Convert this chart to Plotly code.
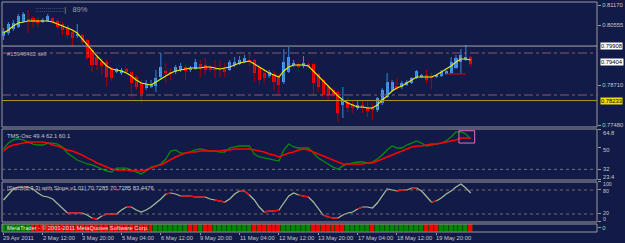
import plotly.graph_objects as go

# ---------------- data ----------------
bars = list(range(96))

open_ = [0.80217,0.80309,0.80432,0.80494,0.80678,0.80740,0.80770,0.80709,0.80648,0.80678,
         0.80770,0.80678,0.80586,0.80494,0.80340,0.80217,0.80248,0.80094,0.79787,0.79571,
         0.79418,0.79418,0.79233,0.79110,0.79079,0.79202,0.79110,0.78956,0.78772,0.78618,
         0.78649,0.78679,0.78956,0.79141,0.79110,0.79110,0.79172,0.79264,0.79172,0.79202,
         0.79356,0.79325,0.79264,0.79202,0.79202,0.79202,0.79172,0.79325,0.79356,0.79418,
         0.79479,0.79479,0.79264,0.79079,0.78987,0.79049,0.78987,0.78803,0.79110,0.79325,
         0.79356,0.79295,0.79356,0.79356,0.79049,0.78864,0.78649,0.78557,0.78495,0.78095,
         0.78189,0.78126,0.78034,0.78095,0.78034,0.78034,0.77942,0.78157,0.78341,0.78557,
         0.78679,0.78649,0.78710,0.78772,0.78926,0.78956,0.79018,0.78987,0.78956,0.78987,
         0.79049,0.79079,0.79233,0.79418,0.79479,0.79571]
high = [0.80463,0.80648,0.80709,0.80894,0.80955,0.81017,0.80832,0.80801,0.80770,0.80894,
        0.80801,0.80740,0.80648,0.80555,0.80402,0.80586,0.80309,0.80125,0.79848,0.79633,
        0.79541,0.79479,0.79264,0.79233,0.79233,0.79233,0.79141,0.79018,0.78864,0.78864,
        0.78864,0.79172,0.79694,0.79387,0.79233,0.79325,0.79387,0.79325,0.79295,0.79510,
        0.79479,0.79541,0.79325,0.79479,0.79479,0.79387,0.79479,0.79571,0.79602,0.79633,
        0.79694,0.79510,0.79325,0.79172,0.79172,0.79141,0.79049,0.79817,0.79879,0.79479,
        0.79418,0.79602,0.79418,0.79387,0.79079,0.78926,0.78710,0.78618,0.78557,0.78649,
        0.78311,0.78249,0.78249,0.78249,0.78249,0.78157,0.78341,0.78618,0.79079,0.78864,
        0.78926,0.78833,0.78864,0.78956,0.79172,0.79049,0.79172,0.79079,0.79049,0.79172,
        0.79172,0.79571,0.79633,0.79817,0.79940,0.79602]
low = [0.80094,0.80248,0.80371,0.80463,0.80617,0.80309,0.80463,0.80494,0.80617,0.80648,
       0.80586,0.80432,0.80248,0.80156,0.79879,0.80156,0.79971,0.79479,0.79110,0.79172,
       0.79018,0.78649,0.78833,0.79079,0.79018,0.79079,0.78341,0.78557,0.78157,0.78557,
       0.78618,0.78495,0.78895,0.78772,0.78864,0.79049,0.79110,0.78864,0.79110,0.79172,
       0.78956,0.79018,0.79110,0.78926,0.78956,0.78956,0.79141,0.79264,0.79325,0.79387,
       0.79295,0.78803,0.78710,0.78772,0.78926,0.78557,0.78403,0.78741,0.79079,0.79264,
       0.79233,0.79233,0.79233,0.78403,0.78495,0.78341,0.78249,0.78341,0.77573,0.77696,
       0.77880,0.77849,0.77942,0.77849,0.77726,0.77634,0.77880,0.78095,0.78311,0.78495,
       0.78557,0.78587,0.78679,0.78741,0.78895,0.78926,0.78772,0.78587,0.78926,0.78956,
       0.79018,0.79049,0.79202,0.79049,0.79448,0.79264]
close = [0.80371,0.80586,0.80617,0.80832,0.80894,0.80678,0.80648,0.80617,0.80709,0.80832,
         0.80648,0.80494,0.80402,0.80248,0.80156,0.80279,0.80033,0.79541,0.79325,0.79325,
         0.79295,0.78956,0.78926,0.79202,0.79172,0.79110,0.78772,0.78649,0.78434,0.78741,
         0.78741,0.78926,0.79264,0.79079,0.79079,0.79264,0.79295,0.79141,0.79233,0.79418,
         0.79233,0.79172,0.79172,0.79187,0.79172,0.79110,0.79418,0.79418,0.79479,0.79541,
         0.79418,0.79079,0.78864,0.78926,0.79110,0.78803,0.78710,0.79418,0.79571,0.79387,
         0.79264,0.79387,0.79264,0.78772,0.78649,0.78403,0.78403,0.78403,0.77849,0.78249,
         0.78003,0.78003,0.78095,0.78003,0.77911,0.77942,0.78311,0.78557,0.78803,0.78803,
         0.78618,0.78772,0.78803,0.78926,0.79141,0.79018,0.78864,0.78926,0.79018,0.79110,
         0.79141,0.79418,0.79541,0.79633,0.79571,0.79356]
ma = [0.80309,0.80402,0.80525,0.80617,0.80648,0.80678,0.80678,0.80678,0.80678,0.80678,
      0.80648,0.80586,0.80525,0.80463,0.80402,0.80309,0.80125,0.79940,0.79756,0.79602,
      0.79448,0.79295,0.79202,0.79172,0.79141,0.79079,0.78987,0.78864,0.78772,0.78741,
      0.78710,0.78803,0.78895,0.78987,0.79079,0.79141,0.79172,0.79202,0.79233,0.79233,
      0.79233,0.79264,0.79264,0.79233,0.79202,0.79233,0.79264,0.79325,0.79387,0.79418,
      0.79448,0.79356,0.79264,0.79172,0.79079,0.79018,0.78956,0.79141,0.79264,0.79325,
      0.79325,0.79325,0.79295,0.79141,0.78956,0.78803,0.78679,0.78526,0.78372,0.78249,
      0.78157,0.78095,0.78034,0.78034,0.78003,0.78003,0.78095,0.78249,0.78372,0.78526,
      0.78618,0.78679,0.78772,0.78864,0.78956,0.78956,0.78956,0.78956,0.79018,0.79110,
      0.79202,0.79295,0.79418,0.79510,0.79510,0.79479]

tms_green = [48.6,53.4,55.9,56.7,55.9,54.2,52.6,51.8,51.8,53.4,
             53.4,52.6,50.2,45.3,42.1,39.6,38.0,36.4,35.6,33.9,
             32.3,30.7,29.9,33.1,33.1,33.1,31.5,29.9,28.3,30.7,
             33.9,34.8,36.4,40.4,46.9,47.8,45.3,45.3,46.1,47.8,
             48.6,47.8,46.9,46.9,46.1,46.1,49.4,50.2,51.0,51.0,
             51.0,44.5,42.1,41.3,40.4,39.6,38.8,47.8,52.6,50.2,
             49.4,49.4,49.4,45.3,41.3,38.8,36.4,33.9,32.3,34.8,
             36.4,37.2,38.0,38.0,37.2,38.0,40.4,43.7,47.8,51.0,
             49.4,49.4,51.8,53.4,55.1,53.4,51.0,51.8,52.6,53.4,
             55.1,58.3,62.4,62.4,60.7,56.7]
tms_red = [46.9,50.2,51.8,52.6,53.4,54.2,54.2,54.2,54.2,53.4,
           51.8,51.0,49.4,47.8,46.9,45.3,43.7,41.3,39.6,37.2,
           35.6,33.9,32.3,31.5,31.5,31.5,30.7,30.7,30.7,31.5,
           33.1,34.8,35.6,38.0,40.4,42.1,43.7,45.3,46.1,46.1,
           46.9,46.9,46.9,46.9,46.9,47.8,47.8,48.6,48.6,48.6,
           48.6,47.8,46.9,46.1,44.5,43.7,42.1,43.7,45.3,46.1,
           47.8,48.6,47.8,46.1,44.5,42.9,41.3,39.6,38.0,36.4,
           36.4,36.4,36.4,36.4,37.2,37.2,38.8,40.4,42.1,43.7,
           45.3,46.9,48.6,50.2,51.0,51.0,51.8,52.6,52.6,53.4,
           54.2,55.1,55.9,57.5,57.5,57.5]

stoch = [55,67.5,82.5,87.5,87.5,87.5,82.5,72.5,65,62.5,
         57.5,45,32.5,22.5,22.5,22.5,22.5,17.5,10,7.5,
         15,20,20,20,30,37.5,37.5,30,25,30,
         37.5,47.5,57.5,70,72.5,70,65,65,65,62.5,
         62.5,62.5,57.5,55,52.5,50,57.5,70,77.5,77.5,
         67.5,55,37.5,25,27.5,27.5,30,47.5,65,72.5,
         67.5,65,62.5,50,32.5,17.5,12.5,10,10,17.5,
         22.5,25,32.5,37.5,37.5,35,47.5,65,82.5,80,
         77.5,80,80,85,85,77.5,62.5,50,52.5,60,
         70,77.5,87.5,95,85,72.5]
stoch_red_from = [4,13,14,15,18,20,21,22,25,33,36,37,38,39,40,43,44,48,49,
                  53,54,55,60,61,65,66,67,72,80,81,83,87]

hist_dir = ("GGGGGG" "RRRRR" "RRRRR" "RRRRR" "RRRRR" "RRRRR" "GGGGGGG" "RR" "G" "RR"
            "GGGGGGGG" "RRRRRR" "GGGGGG" "RRRRRRR" "GGGGG" "R" "GGGGGGGGGG" "RRR" "GGGGGG" "R")

tick_bars = [0, 8, 16, 24, 32, 40, 48, 56, 64, 72, 80, 88]
tick_labels = ["29 Apr 2011", "2 May 12:00", "3 May 20:00", "5 May 04:00", "6 May 12:00",
               "9 May 20:00", "11 May 04:00", "12 May 12:00", "13 May 20:00",
               "17 May 04:00", "18 May 12:00", "19 May 20:00"]

price_ticks = [0.81170, 0.80555, 0.78710, 0.77480]
level_gray = 0.79908
level_bid = 0.79404
level_yellow = 0.78233
level_dashdot = [0.79694, 0.78403]
trade_level = 0.79049
osc_ticks = [64.8, 50, 32, 23.4]
osc_labels = ["64.8", "50", "32", "23.4"]
stoch_ticks = [100, 80, 20, 0]
stoch_labels = ["100", "80", "20", "0"]

# ---------------- style ----------------
BG = "#121a48"
FG = "#c8c8c8"
GRID = "#9a9a9a"
FONT = "Liberation Sans"
FS = 5.8

fig = go.Figure()

# candles: wicks + bodies
up = [i for i in bars if close[i] >= open_[i]]
dn = [i for i in bars if close[i] < open_[i]]
for idx, wcol in ((up, "#3a84d8"), (dn, "#b00000")):
    wx, wy = [], []
    for i in idx:
        wx += [bars[i], bars[i], None]
        wy += [low[i], high[i], None]
    fig.add_trace(go.Scatter(x=wx, y=wy, mode="lines", line=dict(color=wcol, width=1),
                             xaxis="x", yaxis="y", showlegend=False, hoverinfo="skip"))
fig.add_trace(go.Bar(x=[bars[i] for i in up], base=[open_[i] for i in up],
                     y=[close[i] - open_[i] for i in up], width=0.62,
                     marker=dict(color="#3a8ce6", line=dict(width=0),
                                 pattern=dict(shape=".", fgcolor="#8cc8ff", bgcolor="#3a8ce6",
                                              size=3, solidity=0.4)),
                     xaxis="x", yaxis="y", showlegend=False, hoverinfo="skip"))
fig.add_trace(go.Bar(x=[bars[i] for i in dn], base=[close[i] for i in dn],
                     y=[open_[i] - close[i] for i in dn], width=0.62,
                     marker=dict(color="#ff0000", line=dict(width=0)),
                     xaxis="x", yaxis="y", showlegend=False, hoverinfo="skip"))
fig.add_trace(go.Scatter(x=bars, y=ma, mode="lines", line=dict(color="#f0f000", width=1.1),
                         xaxis="x", yaxis="y", showlegend=False, hoverinfo="skip"))

# TMS oscillator
fig.add_trace(go.Scatter(x=bars, y=tms_green, mode="lines", line=dict(color="#0a8a0a", width=1.3),
                         xaxis="x", yaxis="y2", showlegend=False, hoverinfo="skip"))
fig.add_trace(go.Scatter(x=bars, y=tms_red, mode="lines", line=dict(color="#ff0000", width=1.5),
                         xaxis="x", yaxis="y2", showlegend=False, hoverinfo="skip"))

# Stochastic with slope
fig.add_trace(go.Scatter(x=bars, y=stoch, mode="lines", line=dict(color="#a8c098", width=1.2),
                         xaxis="x", yaxis="y3", showlegend=False, hoverinfo="skip"))
sx, sy = [], []
for i in stoch_red_from:
    sx += [bars[i], bars[i + 1], None]
    sy += [stoch[i], stoch[i + 1], None]
fig.add_trace(go.Scatter(x=sx, y=sy, mode="lines", line=dict(color="#ff0000", width=1.3),
                         xaxis="x", yaxis="y3", showlegend=False, hoverinfo="skip"))

# histogram
hcol = ["#008800" if c == "G" else "#ff0000" for c in hist_dir]
fig.add_trace(go.Bar(x=bars, y=[1] * len(bars), marker=dict(color=hcol, line=dict(color="#004400", width=0.6)),
                     width=1.0, xaxis="x", yaxis="y4", showlegend=False, hoverinfo="skip"))

# domains (paper fractions of plot height)
D_MAIN = [0.4565, 1.0]
D_OSC = [0.2261, 0.4478]
D_STO = [0.0435, 0.2174]
D_HIS = [0.0, 0.0348]

axis_common = dict(showgrid=False, zeroline=False, side="right", ticks="outside", ticklen=3,
                   tickcolor=GRID, tickfont=dict(family=FONT, size=FS, color=FG), showline=False)

fig.update_layout(
    width=625, height=243,
    margin=dict(l=2, r=23, t=2, b=11),
    paper_bgcolor=BG, plot_bgcolor=BG,
    barmode="overlay", bargap=0,
    xaxis=dict(range=[-0.3, 120.67], showgrid=False, zeroline=False, showticklabels=False,
               ticks="outside", ticklen=2, tickcolor=GRID, tickvals=tick_bars,
               anchor="y4", showline=False),
    yaxis=dict(domain=D_MAIN, range=[0.77419, 0.81263], tickvals=price_ticks,
               tickformat=".5f", anchor="x", **axis_common),
    yaxis2=dict(domain=D_OSC, range=[23.4, 64.8], tickvals=osc_ticks, showticklabels=False,
                anchor="x", **axis_common),
    yaxis3=dict(domain=D_STO, range=[0, 100], tickvals=stoch_ticks, showticklabels=False,
                anchor="x", **axis_common),
    yaxis4=dict(domain=D_HIS, range=[0, 1], tickvals=[0.5], ticktext=["0"], anchor="x", **axis_common),
)

shapes = []
for d in (D_MAIN, D_OSC, D_STO, D_HIS):
    shapes.append(dict(type="rect", xref="paper", yref="paper", x0=0, x1=1, y0=d[0], y1=d[1],
                       line=dict(color=GRID, width=1), layer="above"))
shapes.append(dict(type="line", xref="paper", yref="y", x0=0, x1=1, y0=level_gray, y1=level_gray,
                   line=dict(color="#a8a8a8", width=1)))
for lv in level_dashdot:
    shapes.append(dict(type="line", xref="paper", yref="y", x0=0, x1=1, y0=lv, y1=lv,
                       line=dict(color="#8a5a6a", width=1, dash="dashdot")))
shapes.append(dict(type="line", xref="paper", yref="y", x0=0, x1=1, y0=level_yellow, y1=level_yellow,
                   line=dict(color="#a89a20", width=1)))
shapes.append(dict(type="line", xref="x", yref="y", x0=bars[90], x1=bars[94], y0=trade_level, y1=trade_level,
                   line=dict(color="#a01010", width=1.5)))
shapes.append(dict(type="line", xref="paper", yref="y2", x0=0, x1=1, y0=32, y1=32,
                   line=dict(color="#707080", width=1, dash="dot")))
for lv in (80, 20):
    shapes.append(dict(type="line", xref="paper", yref="y3", x0=0, x1=1, y0=lv, y1=lv,
                       line=dict(color="#806868", width=1, dash="dot")))
shapes.append(dict(type="rect", xref="x", yref="y2", x0=bars[93] - 0.4, x1=bars[95] + 0.8, y0=53.4, y1=63.4,
                   line=dict(color="#e070c0", width=1)))
fig.update_layout(shapes=shapes)

ann = []
for b, lab in zip(tick_bars, tick_labels):
    ann.append(dict(x=b, y=0, xref="x", yref="paper", text=lab, showarrow=False,
                    xanchor="left", yanchor="top", xshift=-2, yshift=-1,
                    font=dict(family=FONT, size=FS, color=FG)))
for v, t, sh in zip(osc_ticks, osc_labels, (-4, -3, 0, 3)):
    ann.append(dict(x=1, y=v, xref="paper", yref="y2", text=t, showarrow=False, xanchor="left",
                    yanchor="middle", xshift=4, yshift=sh, font=dict(family=FONT, size=FS, color=FG)))
for v, t, sh in zip(stoch_ticks, stoch_labels, (-2, -1, 1, 3)):
    ann.append(dict(x=1, y=v, xref="paper", yref="y3", text=t, showarrow=False, xanchor="left",
                    yanchor="middle", xshift=4, yshift=sh, font=dict(family=FONT, size=5.2, color=FG)))
for val, bg in ((level_gray, "#ffffff"), (level_bid, "#ffffff"), (level_yellow, "#f0dc00")):
    ann.append(dict(x=1, y=val, xref="paper", yref="y", text=f"{val:.5f}", showarrow=False,
                    xanchor="left", yanchor="middle", xshift=3, bgcolor=bg, borderpad=0,
                    font=dict(family=FONT, size=FS, color="#000000")))
ann.append(dict(x=0, y=1, xref="paper", yref="paper", text="<span style='color:#707890'>::::::::::::::</span>"
                "<span style='color:#c0a040'>|</span>   89%", showarrow=False,
                xanchor="left", yanchor="top", xshift=31, yshift=-1,
                font=dict(family=FONT, size=7.5, color="#a0a0a0")))
ann.append(dict(x=0, y=0.7965, xref="paper", yref="y", text="#15946462 sell", showarrow=False,
                xanchor="left", yanchor="middle", xshift=3,
                font=dict(family=FONT, size=FS, color="#b0b0b0")))
ann.append(dict(x=0, y=D_OSC[1], xref="paper", yref="paper", text="TMS-Osc 49.4 62.1 60.1", showarrow=False,
                xanchor="left", yanchor="top", xshift=3, yshift=-2,
                font=dict(family=FONT, size=FS, color=FG)))
ann.append(dict(x=0, y=D_STO[1], xref="paper", yref="paper",
                text="[Stoch(8,3,3) with Slope v1.01] 70.7285 70.7285 83.4476", showarrow=False,
                xanchor="left", yanchor="top", xshift=3, yshift=-1,
                font=dict(family=FONT, size=FS, color=FG)))
ann.append(dict(x=0, y=D_HIS[1], xref="paper", yref="paper",
                text="MetaTrader - © 2001-2011 MetaQuotes Software Corp.", showarrow=False,
                xanchor="left", yanchor="top", xshift=3, yshift=1,
                font=dict(family=FONT, size=FS, color="#e8e8e8")))
fig.update_layout(annotations=ann)

fig.write_html("out.html")
